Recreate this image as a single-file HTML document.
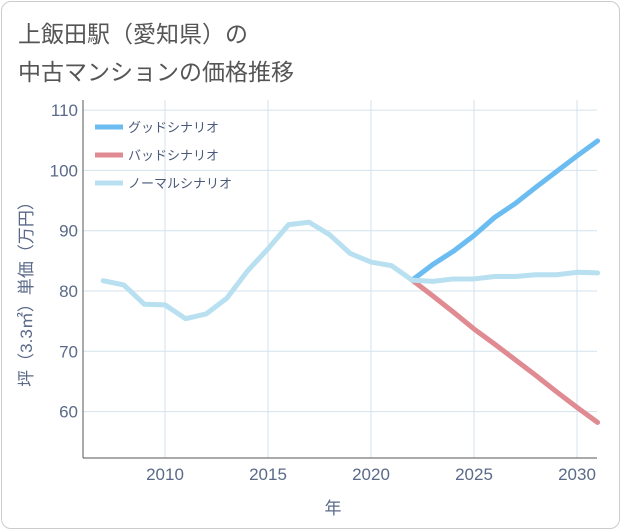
<!DOCTYPE html>
<html><head><meta charset="utf-8"><style>
body{margin:0;background:#fff;font-family:"Liberation Sans","Noto Sans CJK JP",sans-serif;}
#card{position:absolute;left:1px;top:1px;width:617px;height:526px;border:1px solid #ccc;border-radius:10px;background:#fff;}
.t{position:absolute;left:18px;font-size:23px;color:#555;}
</style></head><body>
<div id="card"></div>
<div class="t" style="top:15px">上飯田駅（愛知県）の</div>
<div class="t" style="top:53px">中古マンションの価格推移</div>
<svg id="c" width="621" height="530" style="position:absolute;left:0;top:0"></svg>
<script>
const years=[2007,2008,2009,2010,2011,2012,2013,2014,2015,2016,2017,2018,2019,2020,2021,2022,2023,2024,2025,2026,2027,2028,2029,2030,2031];
const normal=[81.7,81,77.8,77.7,75.4,76.2,78.8,83.3,87,91,91.4,89.3,86.2,84.8,84.2,81.8,81.6,82,82,82.4,82.4,82.7,82.7,83.1,83];
const goodYears=[2022,2023,2024,2025,2026,2027,2028,2029,2030,2031];
const good=[81.8,84.4,86.6,89.2,92.2,94.5,97.2,99.8,102.4,104.9];
const bad=[81.8,79.2,76.5,73.7,71.2,68.6,66,63.3,60.7,58.2];
const xTicks=[2010,2015,2020,2025,2030];
const yTicks=[60,70,80,90,100,110];
const L=83,R=597,T=100,B=458;
const x=v=>165+(v-2010)*20.6;
const y=v=>291-(v-80)*6.03;
const s=document.getElementById('c');const NS='http://www.w3.org/2000/svg';
function mk(t,a,p){const e=document.createElementNS(NS,t);for(const k in a)e.setAttribute(k,a[k]);(p||s).appendChild(e);return e;}
for(const v of xTicks){const l=mk('line',{x1:x(v),x2:x(v),y1:T,y2:B,stroke:'#d3e3ee','stroke-width':1});


const t=mk('text',{x:x(v),y:480,'text-anchor':'middle','font-size':17,fill:'#5a6a88'});t.textContent=v;

}
for(const v of yTicks){const l=mk('line',{x1:L,x2:R,y1:y(v),y2:y(v),stroke:'#d3e3ee','stroke-width':1});


const t=mk('text',{x:78,y:y(v)+6,'text-anchor':'end','font-size':17,fill:'#5a6a88'});t.textContent=v;

}
const ax=mk('line',{x1:L,x2:L,y1:T,y2:B,stroke:'#555','stroke-width':1});


const bx=mk('line',{x1:L,x2:R,y1:B,y2:B,stroke:'#555','stroke-width':1});


const xt=mk('text',{x:333,y:514,'text-anchor':'middle','font-size':17,fill:'#5a6a88'});xt.textContent='年';


const yt=mk('text',{x:0,y:0,'text-anchor':'middle','font-size':17,fill:'#5a6a88',transform:'translate(32,290) rotate(-90)'});yt.textContent='坪（3.3㎡）単価（万円）';


function line(xs,vs,c,n){const p=mk('polyline',{points:xs.map((v,i)=>x(v)+','+y(vs[i])).join(' '),fill:'none',stroke:c,'stroke-width':5,'stroke-linejoin':'round','stroke-linecap':'round'});

}
line(goodYears,bad,'#e08a92','bad-scenario-line');
line(goodYears,good,'#6bbcf0','good-scenario-line');
line(years,normal,'#b8e0f0','normal-scenario-line');
const lg=[['グッドシナリオ','#6bbcf0'],['バッドシナリオ','#e08a92'],['ノーマルシナリオ','#b8e0f0']];
lg.forEach((d,i)=>{const yy=127+i*28;
const l=mk('line',{x1:95,x2:123,y1:yy,y2:yy,stroke:d[1],'stroke-width':5});


const t=mk('text',{x:128,y:yy+5,'font-size':13,fill:'#4a5a78'});t.textContent=d[0];

});
</script>
</body></html>
